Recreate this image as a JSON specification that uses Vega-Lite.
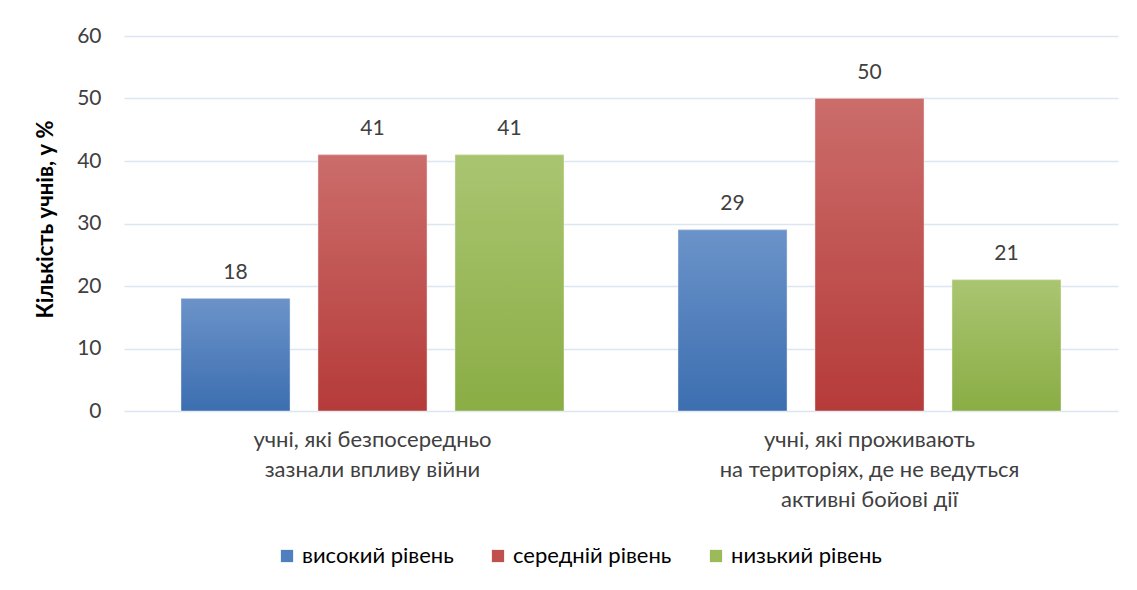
{
  "$schema": "https://vega.github.io/schema/vega-lite/v6.json",
  "width": 994,
  "height": 375,
  "autosize": {"type": "none"},
  "padding": {"left": 124, "top": 36, "right": 19, "bottom": 179},
  "background": "white",
  "config": {
    "font": "Lato, Carlito, sans-serif",
    "view": {"stroke": null},
    "axis": {"labelFont": "Lato, Carlito, sans-serif", "titleFont": "Lato, Carlito, sans-serif"}
  },
  "data": {
    "values": [
      {"group": "учні, які безпосередньо|зазнали впливу війни", "level": "високий рівень", "value": 18},
      {"group": "учні, які безпосередньо|зазнали впливу війни", "level": "середній рівень", "value": 41},
      {"group": "учні, які безпосередньо|зазнали впливу війни", "level": "низький рівень", "value": 41},
      {"group": "учні, які проживають|на територіях, де не ведуться|активні бойові дії", "level": "високий рівень", "value": 29},
      {"group": "учні, які проживають|на територіях, де не ведуться|активні бойові дії", "level": "середній рівень", "value": 50},
      {"group": "учні, які проживають|на територіях, де не ведуться|активні бойові дії", "level": "низький рівень", "value": 21}
    ]
  },
  "encoding": {
    "x": {
      "field": "group",
      "type": "nominal",
      "sort": null,
      "scale": {"paddingInner": 0, "paddingOuter": 0},
      "axis": {
        "title": null,
        "labelAngle": 0,
        "labelExpr": "split(datum.label, '|')",
        "labelFontSize": 22,
        "labelColor": "#404040",
        "labelLineHeight": 30,
        "labelPadding": 18,
        "labelBaseline": "top",
        "domain": false,
        "ticks": false,
        "labelLimit": 0
      }
    },
    "xOffset": {
      "field": "level",
      "type": "nominal",
      "scale": {"domain": ["високий рівень", "середній рівень", "низький рівень"], "paddingInner": 0.204, "paddingOuter": 0.416}
    },
    "y": {
      "field": "value",
      "type": "quantitative",
      "scale": {"domain": [0, 60]},
      "axis": {
        "title": "Кількість учнів, у %",
        "titleFontSize": 22,
        "titleFontWeight": "bold",
        "titleColor": "#000000",
        "titleX": -79,
        "titleY": 183,
        "titleAlign": "center",
        "titleBaseline": "middle",
        "titleAngle": -90,
        "values": [0, 10, 20, 30, 40, 50, 60],
        "labelFontSize": 21,
        "labelColor": "#404040",
        "labelPadding": 23,
        "domain": false,
        "ticks": false,
        "gridColor": "#dce6f2",
        "gridWidth": 1.5
      }
    }
  },
  "layer": [
    {
      "mark": {"type": "bar"},
      "encoding": {
        "color": {
          "field": "level",
          "type": "nominal",
          "scale": {
            "domain": ["високий рівень", "середній рівень", "низький рівень"],
            "range": ["#4f7fbf", "#c0504d", "#9bbb59"]
          },
          "legend": {
            "title": null,
            "orient": "none",
            "direction": "horizontal",
            "legendX": 152,
            "legendY": 509,
            "symbolType": "square",
            "symbolSize": 150,
            "symbolStrokeWidth": 0,
            "symbolOpacity": 1,
            "labelFontSize": 22,
            "labelColor": "#000000",
            "labelOffset": 4,
            "columnPadding": 33,
            "labelLimit": 0
          }
        }
      }
    },
    {
      "transform": [{"filter": "datum.level === 'високий рівень'"}],
      "mark": {"type": "bar", "stroke": "#ffffff", "strokeOpacity": 0.4, "strokeWidth": 1,
        "color": {"gradient": "linear", "x1": 0, "y1": 0, "x2": 0, "y2": 1, "stops": [{"offset": 0, "color": "#6b93c9"}, {"offset": 1, "color": "#3c6eb0"}]}}
    },
    {
      "transform": [{"filter": "datum.level === 'середній рівень'"}],
      "mark": {"type": "bar", "stroke": "#ffffff", "strokeOpacity": 0.4, "strokeWidth": 1,
        "color": {"gradient": "linear", "x1": 0, "y1": 0, "x2": 0, "y2": 1, "stops": [{"offset": 0, "color": "#cb6d6b"}, {"offset": 1, "color": "#b53b39"}]}}
    },
    {
      "transform": [{"filter": "datum.level === 'низький рівень'"}],
      "mark": {"type": "bar", "stroke": "#ffffff", "strokeOpacity": 0.4, "strokeWidth": 1,
        "color": {"gradient": "linear", "x1": 0, "y1": 0, "x2": 0, "y2": 1, "stops": [{"offset": 0, "color": "#aac571"}, {"offset": 1, "color": "#8aad45"}]}}
    },
    {
      "mark": {"type": "text", "dy": -26, "baseline": "middle", "fontSize": 21, "color": "#404040"},
      "encoding": {
        "text": {"field": "value", "type": "quantitative"}
      }
    }
  ]
}
